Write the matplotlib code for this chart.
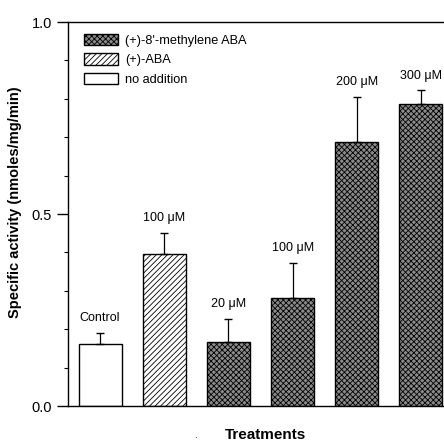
import matplotlib.pyplot as plt
import matplotlib as mpl
from matplotlib.patches import Patch

plt.rcParams['font.family'] = ['Liberation Sans', 'DejaVu Sans']
mpl.rcParams['hatch.linewidth'] = 0.6

# data
treatments = ['Control', 'ABA 100', 'ME 20', 'ME 100', 'ME 200', 'ME 300']
activity = [0.161, 0.396, 0.167, 0.281, 0.688, 0.787]
errors = [0.030, 0.055, 0.060, 0.092, 0.117, 0.036]
bar_labels = ['Control', '100 \u03bcM', '20 \u03bcM', '100 \u03bcM', '200 \u03bcM', '300 \u03bcM']
kind = ['none', 'aba', 'me', 'me', 'me', 'me']

hatches = {'none': '', 'aba': '//////', 'me': 'xxxxxx'}
fill = {'none': 'white', 'aba': 'white', 'me': '#8a8a8a'}

fig = plt.figure(figsize=(4.44, 4.41), dpi=100)
ax = fig.add_axes([68 / 444, 35 / 441, 1 - 68 / 444, 384 / 441])

x = list(range(len(treatments)))
for i in x:
    ax.bar(i, activity[i], width=0.67, color=fill[kind[i]], edgecolor='black',
           hatch=hatches[kind[i]], linewidth=1.0, zorder=2)
    ax.errorbar(i, activity[i], yerr=[[0], [errors[i]]], fmt='none', ecolor='black',
                elinewidth=0.9, capsize=3, capthick=1.0, zorder=3)
    ax.text(i, activity[i] + errors[i] + 0.022, bar_labels[i], ha='center',
            va='bottom', fontsize=9)

ax.set_xlim(-0.5, 5.36)
ax.set_ylim(0, 1.0)
ax.set_yticks([0.0, 0.5, 1.0])
ax.set_yticklabels(['0.0', '0.5', '1.0'], fontsize=10.5)
ax.set_yticks([0.1, 0.2, 0.3, 0.4, 0.6, 0.7, 0.8, 0.9], minor=True)
ax.tick_params(axis='y', which='major', length=8, width=1.0)
ax.tick_params(axis='y', which='minor', length=3, width=0.8)
ax.set_xticks([])
ax.spines['right'].set_visible(False)
for s in ['left', 'top', 'bottom']:
    ax.spines[s].set_linewidth(1.0)

ax.set_ylabel('Specific activity (nmoles/mg/min)', fontsize=10.5, fontweight='bold')
ax.yaxis.set_label_coords(-46 / 376, 0.53)
ax.set_xlabel('Treatments', fontsize=11, fontweight='bold')
ax.xaxis.set_label_coords(0.524, -0.076)
ax.xaxis.label.set_va('center')
ax.text(0.339, -0.076, '.', transform=ax.transAxes, ha='center', va='center',
        fontsize=7)

handles = [
    Patch(facecolor=fill['me'], edgecolor='black', hatch=hatches['me'],
          label="(+)-8'-methylene ABA"),
    Patch(facecolor='white', edgecolor='black', hatch=hatches['aba'], label='(+)-ABA'),
    Patch(facecolor='white', edgecolor='black', label='no addition'),
]
ax.legend(handles=handles, loc='upper left', frameon=False, fontsize=9.2,
          handlelength=2.6, handleheight=1.0, borderaxespad=0.3,
          labelspacing=0.5, handletextpad=0.6, bbox_to_anchor=(0.02, 0.993))

fig.savefig('out.png', dpi=100)
